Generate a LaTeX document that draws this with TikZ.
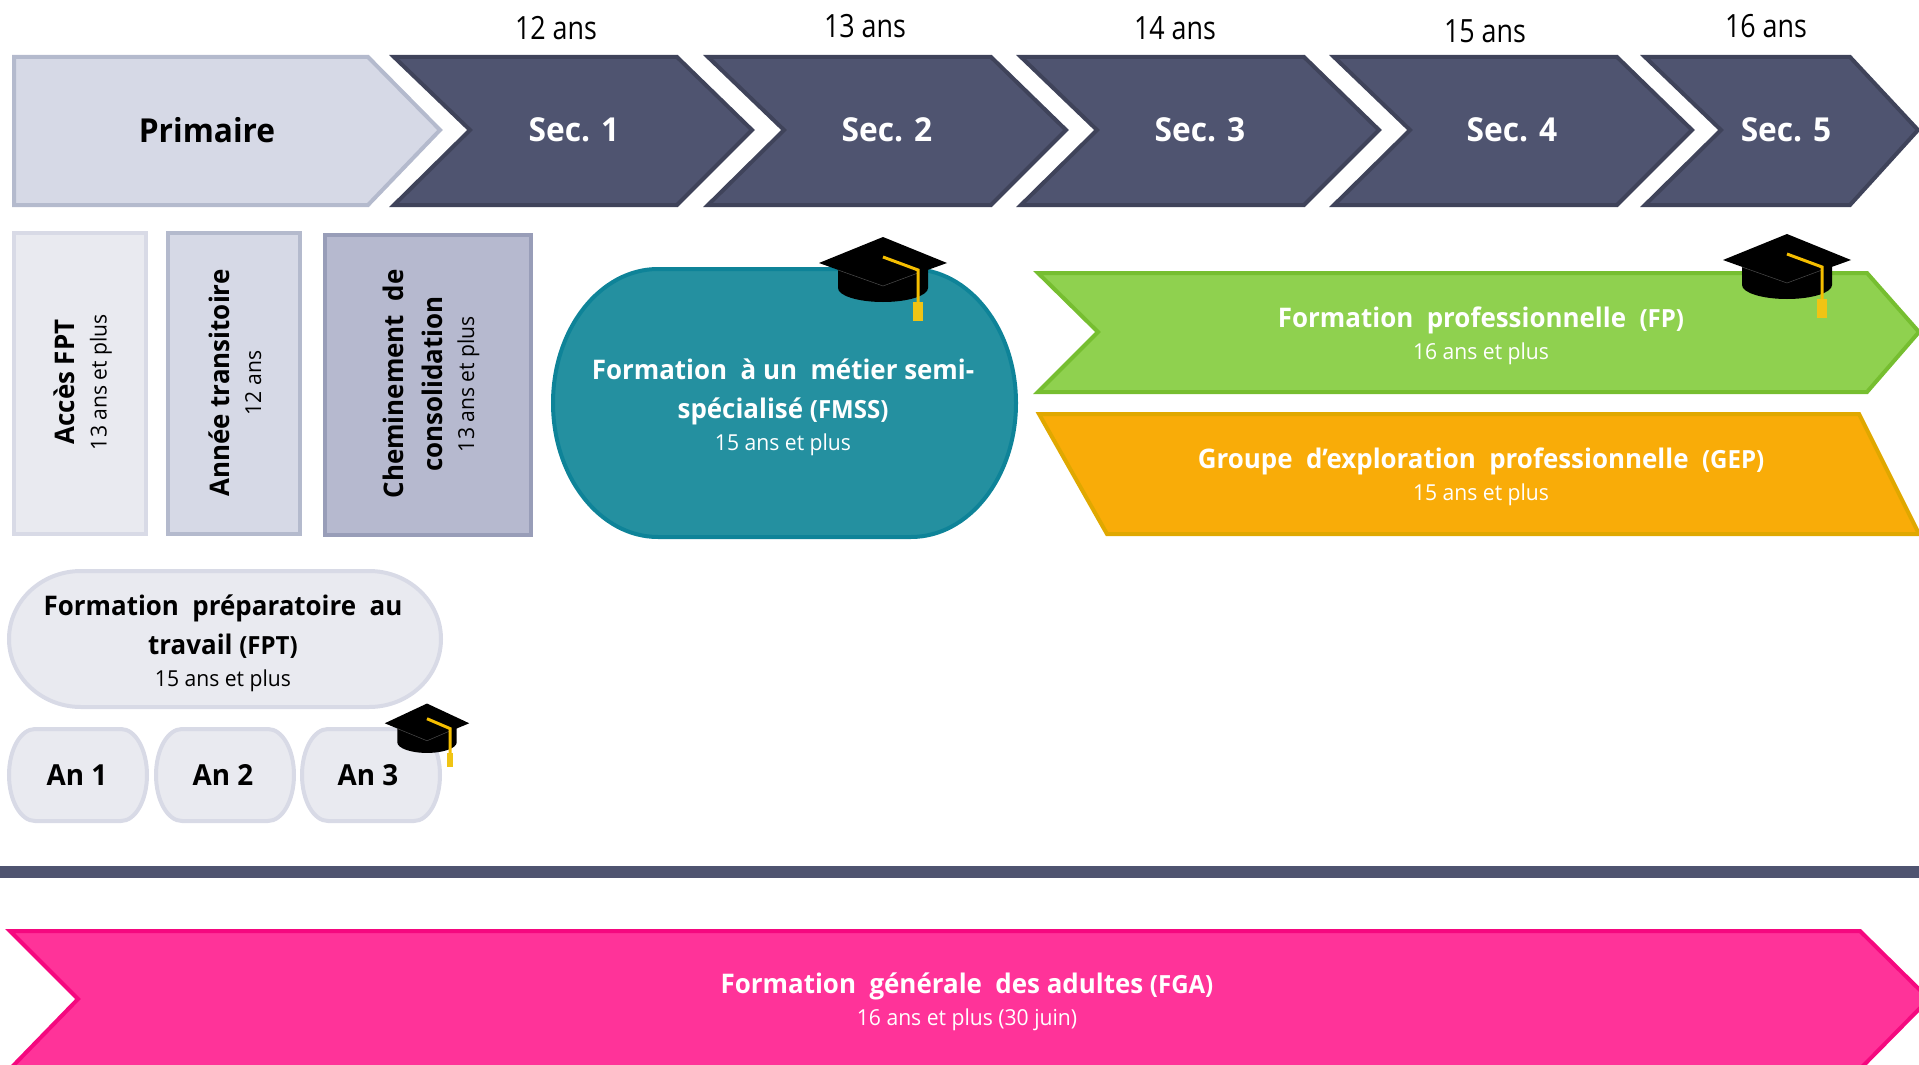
\documentclass[tikz,border=0pt]{standalone}
\usepackage{fontspec}
\setmainfont[FakeStretch=0.96]{Open Sans}
\newfontfamily\agefont[FakeStretch=0.84]{Open Sans}
\usepackage{tikz}
\usetikzlibrary{calc}
\definecolor{secfill}{HTML}{4F5470}
\definecolor{secline}{HTML}{3F435A}
\definecolor{prifill}{HTML}{D6D9E6}
\definecolor{priline}{HTML}{B4BACD}
\definecolor{palefill}{HTML}{E9EAF0}
\definecolor{paleline}{HTML}{D8DAE6}
\definecolor{consfill}{HTML}{B6B9CF}
\definecolor{consline}{HTML}{989DB8}
\definecolor{fmssfill}{HTML}{2490A0}
\definecolor{fmssline}{HTML}{0E8398}
\definecolor{fpfill}{HTML}{8FD14F}
\definecolor{fpline}{HTML}{76BE30}
\definecolor{gepfill}{HTML}{F9AC08}
\definecolor{gepline}{HTML}{E0A800}
\definecolor{fgafill}{HTML}{FF3399}
\definecolor{fgaline}{HTML}{F5087F}
\definecolor{capgold}{HTML}{F5BE00}
\definecolor{captassel}{HTML}{F0C414}
\newcommand{\subline}[1]{{\fontsize{22}{26}\selectfont\mdseries #1}}
\newcommand{\acro}[1]{{\fontsize{25}{39}\selectfont #1}}
\tikzset{
	shapeline/.style={line width=4pt, line join=miter},
	agetext/.style={font=\agefont\fontsize{32}{34}\selectfont},
	stagetext/.style={font=\bfseries\fontsize{33}{38}\selectfont},
	boxtext/.style={font=\bfseries\fontsize{27}{39}\selectfont, align=center},
	sidetext/.style={boxtext, rotate=90},
	gradcap/.pic={
		\fill[black] (-45,0) -- (-45,28) arc[x radius=45, y radius=14, start angle=180, end angle=0] -- (45,0) -- cycle;
		\fill[black] (-64,3) -- (0,-23) -- (64,3) -- (0,26) -- cycle;
		\draw[black!70, line width=0.5pt] (-45,10) -- (0,26) -- (35,13);
		\draw[capgold, line width=3pt] (0,-3) -- (35,10) -- (35,44);
		\fill[captassel] (30,42) rectangle (40,61);
	}
}

\begin{document}
\begin{tikzpicture}[x=1pt, y=-1pt]
	\useasboundingbox (0,0) rectangle (1919,1065);

	% Draw stages along the top
	\filldraw[fill=prifill, draw=priline, shapeline] (14,57) -- (368,57) -- (440,130) -- (368,205) -- (14,205) -- cycle;
	\node[stagetext] (primaire) at (207,130) {Primaire};
	\foreach \n/\a/\c in {1/390/574, 2/704/887, 3/1017/1200, 4/1330/1512}{
		\filldraw[fill=secfill, draw=secline, shapeline] (\a+4,57) -- (\a+287,57) -- (\a+362,130) -- (\a+287,205) -- (\a+4,205) -- (\a+80,130) -- cycle;
		\node[stagetext, white] (sec\n) at (\c,130) {Sec. \n};
	}
	\filldraw[fill=secfill, draw=secline, shapeline] (1645,57) -- (1850,57) -- (1918,130) -- (1850,205) -- (1645,205) -- (1721,130) -- cycle;
	\node[stagetext, white] (sec5) at (1786,130) {Sec. 5};

	% Ages above the stages
	\foreach \n/\x/\y in {12/556/28, 13/865/26, 14/1175/28, 15/1485/31, 16/1766/26}
	\node[agetext] (age\n) at (\x,\y) {\n{} ans};

	% Upright boxes
	\filldraw[fill=palefill, draw=paleline, shapeline] (14,233) rectangle (146,534);
	\filldraw[fill=prifill, draw=priline, shapeline] (168,233) rectangle (300,534);
	\filldraw[fill=consfill, draw=consline, shapeline] (325,235) rectangle (531,535);
	\node[sidetext] (acces) at (83,382) {Accès FPT\\[-7pt]\subline{13 ans et plus}};
	\node[sidetext] (annee) at (235,383) {Année transitoire\\[-7pt]\subline{12 ans}};
	\node[sidetext] (chem) at (431,384) {Cheminement~~de\\consolidation\\[-7pt]\subline{13 ans et plus}};

	% FMSS
	\filldraw[fill=fmssfill, draw=fmssline, shapeline] (553,403) arc[x radius=105, y radius=134, start angle=180, end angle=270] -- (911,269) arc[x radius=105, y radius=134, start angle=270, end angle=360] arc[x radius=105, y radius=134, start angle=0, end angle=90] -- (658,537) arc[x radius=105, y radius=134, start angle=90, end angle=180] -- cycle;
	\node[boxtext, white] (fmss) at (783,407) {Formation~~à~un~~métier~semi-\\spécialisé~\acro{(FMSS)}\\[-7pt]\subline{15 ans et plus}};

	% FP and GEP
	\filldraw[fill=fpfill, draw=fpline, shapeline] (1038,273) -- (1867,273) -- (1919,332) -- (1867,392) -- (1038,392) -- (1098,332) -- cycle;
	\node[boxtext, white] (fp) at (1481,336) {Formation~~professionnelle~~\acro{(FP)}\\[-7pt]\subline{16 ans et plus}};
	\filldraw[fill=gepfill, draw=gepline, shapeline] (1039,414) -- (1859,414) -- (1919,534) -- (1107,534) -- cycle;
	\node[boxtext, white] (gep) at (1481,477) {Groupe~~d’exploration~~professionnelle~~\acro{(GEP)}\\[-7pt]\subline{15 ans et plus}};

	% FPT and its years
	\filldraw[fill=palefill, draw=paleline, shapeline] (9,639) arc[x radius=72, y radius=68, start angle=180, end angle=270] -- (369,571) arc[x radius=72, y radius=68, start angle=270, end angle=360] arc[x radius=72, y radius=68, start angle=0, end angle=90] -- (81,707) arc[x radius=72, y radius=68, start angle=90, end angle=180] -- cycle;
	\node[boxtext] (fpt) at (223,643) {Formation~~préparatoire~~au\\travail~\acro{(FPT)}\\[-7pt]\subline{15 ans et plus}};
	\foreach \n/\a/\c in {1/7/77, 2/154/223, 3/300/368}{
		\filldraw[fill=palefill, draw=paleline, shapeline] (\a+2,775) arc[x radius=26, y radius=46, start angle=180, end angle=270] -- (\a+114,729) arc[x radius=26, y radius=46, start angle=270, end angle=360] arc[x radius=26, y radius=46, start angle=0, end angle=90] -- (\a+28,821) arc[x radius=26, y radius=46, start angle=90, end angle=180] -- cycle;
		\node[boxtext, font=\bfseries\fontsize{29}{39}\selectfont] (an\n) at (\c,775) {An \n};
	}

	% Separator
	\fill[secfill] (0,866) rectangle (1919,878);

	% FGA
	\filldraw[fill=fgafill, draw=fgaline, shapeline] (10,931) -- (1860,931) -- (1929,999) -- (1860,1069) -- (10,1069) -- (78,999) -- cycle;
	\node[boxtext, white] (fga) at (967,1002) {Formation~~générale~~des~adultes~\acro{(FGA)}\\[-7pt]\subline{16 ans et plus (30 juin)}};

	% Draw caps
	\pic at (883,260) {gradcap};
	\pic at (1787,257) {gradcap};
	\pic[xscale=0.66, yscale=0.76] at (427,721) {gradcap};
\end{tikzpicture}
\end{document}
